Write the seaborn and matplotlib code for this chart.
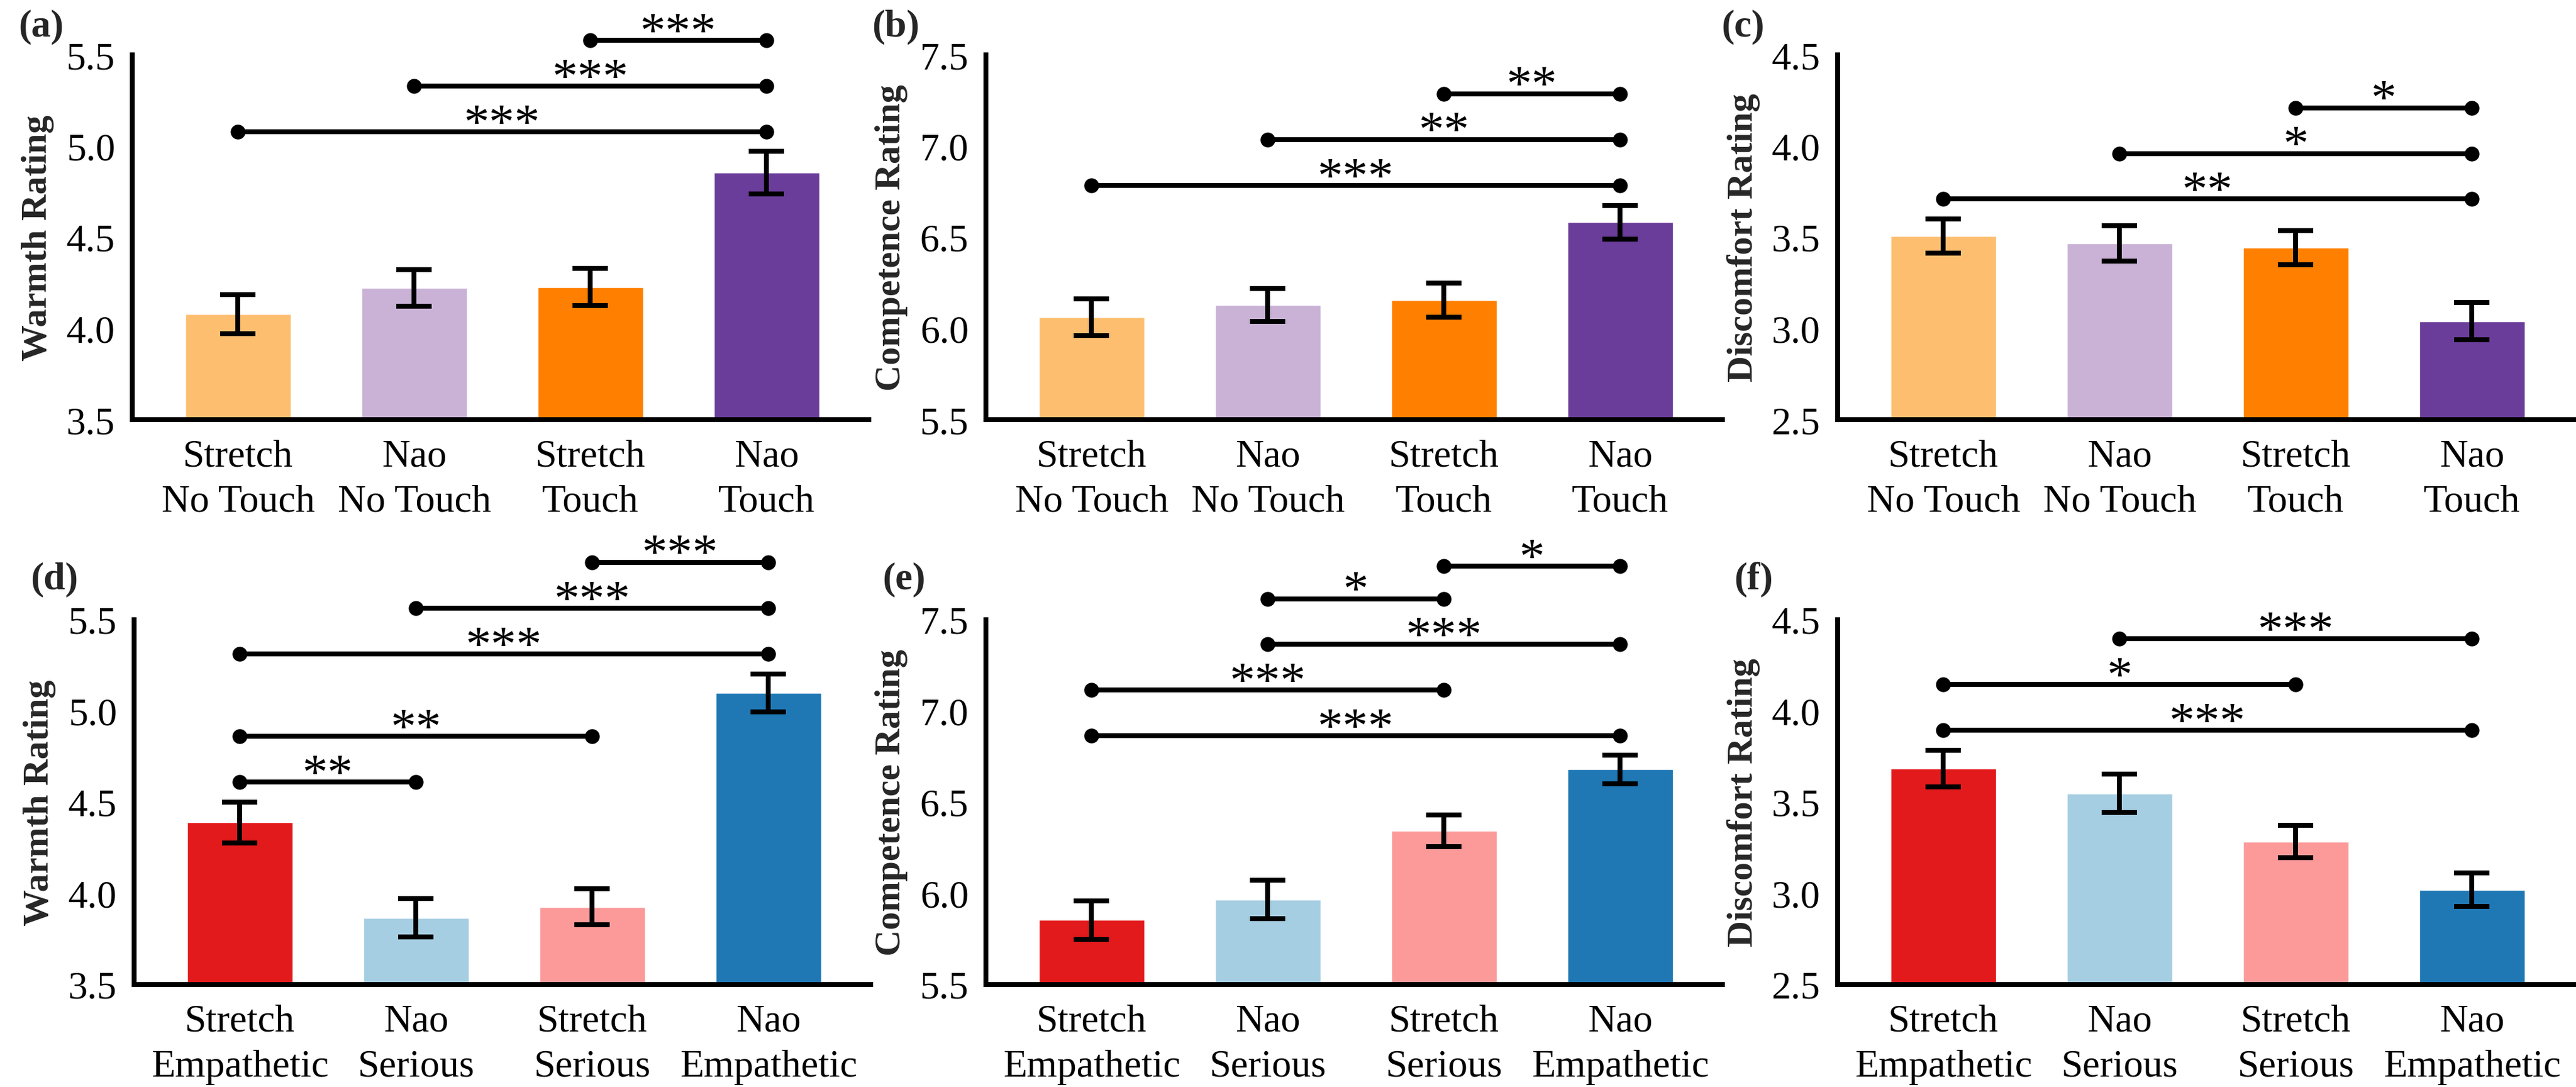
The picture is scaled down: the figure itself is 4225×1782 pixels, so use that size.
import matplotlib
matplotlib.use("Agg")
import matplotlib.pyplot as plt
import seaborn as sns
import pandas as pd

# ---------------- data ----------------
touch_labels = ["Stretch\nNo Touch", "Nao\nNo Touch", "Stretch\nTouch", "Nao\nTouch"]
style_labels = ["Stretch\nEmpathetic", "Nao\nSerious", "Stretch\nSerious", "Nao\nEmpathetic"]
touch_colors = ["#fdbf6f", "#cab2d6", "#ff7f00", "#6a3d9a"]
style_colors = ["#e31a1c", "#a6cee3", "#fb9a99", "#1f78b4"]

warmth_touch = [4.08, 4.223, 4.227, 4.854]
warmth_touch_se = [0.107, 0.100, 0.103, 0.117]
competence_touch = [6.062, 6.129, 6.155, 6.582]
competence_touch_se = [0.100, 0.089, 0.093, 0.093]
discomfort_touch = [3.506, 3.466, 3.444, 3.039]
discomfort_touch_se = [0.093, 0.097, 0.094, 0.102]

warmth_style = [4.388, 3.866, 3.926, 5.099]
warmth_style_se = [0.113, 0.104, 0.098, 0.104]
competence_style = [5.853, 5.966, 6.344, 6.679]
competence_style_se = [0.104, 0.106, 0.087, 0.077]
discomfort_style = [3.685, 3.548, 3.284, 3.020]
discomfort_style_se = [0.100, 0.106, 0.090, 0.093]

# significance brackets: (from index, to index, height, stars)
sig_a = [(0, 3, 5.079, "***"), (1, 3, 5.328, "***"), (2, 3, 5.579, "***")]
sig_b = [(0, 3, 6.785, "***"), (1, 3, 7.036, "**"), (2, 3, 7.287, "**")]
sig_c = [(0, 3, 3.710, "**"), (1, 3, 3.959, "*"), (2, 3, 4.210, "*")]
sig_d = [(0, 1, 4.610, "**"), (0, 2, 4.860, "**"), (0, 3, 5.313, "***"),
         (1, 3, 5.564, "***"), (2, 3, 5.816, "***")]
sig_e = [(0, 3, 6.864, "***"), (0, 2, 7.114, "***"), (1, 3, 7.365, "***"),
         (1, 2, 7.615, "*"), (2, 3, 7.795, "*")]
sig_f = [(0, 3, 3.895, "***"), (0, 2, 4.146, "*"), (1, 3, 4.396, "***")]

panels = [
    ("(a)", "Warmth Rating", touch_labels, touch_colors, warmth_touch, warmth_touch_se, sig_a, (3.5, 5.5)),
    ("(b)", "Competence Rating", touch_labels, touch_colors, competence_touch, competence_touch_se, sig_b, (5.5, 7.5)),
    ("(c)", "Discomfort Rating", touch_labels, touch_colors, discomfort_touch, discomfort_touch_se, sig_c, (2.5, 4.5)),
    ("(d)", "Warmth Rating", style_labels, style_colors, warmth_style, warmth_style_se, sig_d, (3.5, 5.5)),
    ("(e)", "Competence Rating", style_labels, style_colors, competence_style, competence_style_se, sig_e, (5.5, 7.5)),
    ("(f)", "Discomfort Rating", style_labels, style_colors, discomfort_style, discomfort_style_se, sig_f, (2.5, 4.5)),
]

# ---------------- style ----------------
sns.set_style("white")
plt.rcParams["font.family"] = ["Liberation Serif", "DejaVu Serif"]

W, H = 4225, 1783
fig = plt.figure(figsize=(W / 100, H / 100), dpi=100)

lefts_px = [217, 1617, 3014, 220, 1617, 3014]
width_px = 1208
tops_px = [91, 91, 91, 1017, 1017, 1017]
height_px = 598
letter_off_px = [187, 187, 191, 170, 170, 170]
letter_top_px = [15, 15, 15, 921, 921, 921]

for k, (letter, ylab, cats, cols, vals, se, sigs, ylim) in enumerate(panels):
    l = lefts_px[k] / W
    b = 1 - (tops_px[k] + height_px) / H
    ax = fig.add_axes([l, b, width_px / W, height_px / H])
    df = pd.DataFrame({"cond": cats, "val": vals})
    sns.barplot(data=df, x="cond", y="val", hue="cond", palette=cols, legend=False,
                width=0.6, saturation=1, errorbar=None, ax=ax, zorder=2)
    ax.errorbar(range(len(vals)), vals, yerr=se, fmt="none", ecolor="black",
                elinewidth=5.8, capsize=21, capthick=5.8, zorder=3)
    ax.set_ylim(*ylim)
    ax.set_xlim(-0.6, 3.58)
    ticks = [ylim[0] + 0.5 * i for i in range(5)]
    ax.set_yticks(ticks)
    ax.set_yticklabels([f"{t:.1f}" for t in ticks])
    ax.set_xlabel("")
    ax.set_ylabel(ylab, fontsize=43, fontweight="bold", va="center")
    ax.yaxis.set_label_coords(-0.128, 0.5)
    for s in ["top", "right"]:
        ax.spines[s].set_visible(False)
    for s in ["left", "bottom"]:
        ax.spines[s].set_linewidth(5.8)
        ax.spines[s].set_color("black")
    ax.tick_params(axis="both", direction="out", length=14.5, width=5, color="#333333",
                   labelsize=46, labelcolor="black")
    ax.tick_params(axis="y", pad=6)
    ax.tick_params(axis="x", pad=8)
    for lab in ax.get_xticklabels():
        lab.set_linespacing(1.37)
    # significance brackets
    for i, j, y, star in sigs:
        ax.plot([i, j], [y, y], color="black", lw=5.8, marker="o", markersize=16.5,
                solid_capstyle="butt", clip_on=False, zorder=4)
        ax.annotate(star, xy=((i + j) / 2, y), xytext=(0, -7), textcoords="offset points",
                    ha="center", va="baseline", fontsize=60, color="black",
                    annotation_clip=False)
    fig.text((lefts_px[k] - letter_off_px[k]) / W, 1 - letter_top_px[k] / H, letter,
             fontsize=46, fontweight="bold", ha="left", va="top")

fig.savefig("out.png", dpi=100, facecolor="white")
